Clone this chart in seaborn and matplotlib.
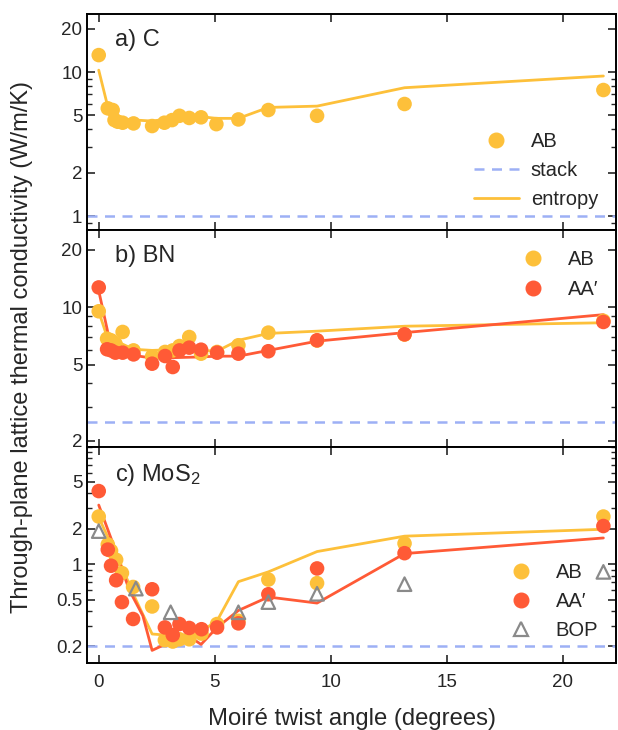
import numpy as np
import pandas as pd
import seaborn as sns
import matplotlib.pyplot as plt
from matplotlib.ticker import FixedLocator, FixedFormatter, NullFormatter
from matplotlib.lines import Line2D

# panel a) C
c_ang = [0, 0.39, 0.6, 0.68, 0.82, 1.03, 1.5, 2.3, 2.83, 3.16, 3.48, 3.9, 4.41, 5.07, 6.02, 7.31, 9.41, 13.18, 21.75]
c_ab = [13.1, 5.6, 5.45, 4.64, 4.52, 4.45, 4.4, 4.22, 4.45, 4.64, 4.97, 4.8, 4.85, 4.35, 4.69, 5.45, 4.97, 6.0, 7.5]
c_ent_ang = [0, 0.39, 1.03, 2.3, 3.48, 4.41, 5.07, 6.02, 7.31, 9.41, 13.18, 21.75]
c_ent = [10.3, 5.74, 4.7, 4.57, 4.85, 4.9, 4.77, 4.77, 5.68, 5.8, 7.78, 9.38]
c_stack = 1.0

# panel b) BN
bn_ang = [0, 0.36, 0.53, 0.72, 1.03, 1.5, 2.3, 2.86, 3.19, 3.48, 3.9, 4.41, 5.1, 6.02, 7.31, 9.41, 13.18, 21.75]
bn_ab = [9.53, 6.85, 6.72, 6.45, 7.43, 5.95, 5.54, 5.84, 5.95, 6.27, 6.99, 5.72, 5.84, 6.33, 7.37, 6.7, 7.2, 8.5]
bn_aa = [12.7, 6.03, 5.95, 5.79, 5.79, 5.67, 5.07, 5.56, 4.87, 5.95, 6.15, 6.0, 5.79, 5.72, 5.89, 6.72, 7.22, 8.38]
bn_ab_ent_ang = [0, 0.36, 1.5, 2.3, 3.19, 4.41, 5.1, 6.02, 7.31, 9.41, 13.18, 21.75]
bn_ab_ent = [9.5, 7.0, 6.03, 5.95, 6.0, 5.95, 5.9, 6.72, 7.3, 7.5, 7.96, 8.3]
bn_aa_ent_ang = [0, 0.53, 1.03, 1.5, 2.3, 3.19, 4.41, 5.1, 6.02, 7.31, 9.41, 13.18, 21.75]
bn_aa_ent = [12.2, 6.2, 5.8, 5.6, 5.43, 5.45, 5.5, 5.55, 5.55, 5.95, 6.65, 7.37, 9.15]
bn_stack = 2.5

# panel c) MoS2
mos_ang = [0, 0.39, 0.53, 0.75, 1.0, 1.48, 2.3, 2.85, 3.19, 3.48, 3.9, 4.43, 5.1, 6.02, 7.31, 9.41, 13.18, 21.75]
mos_ab = [2.54, 1.47, 1.3, 1.09, 0.84, 0.64, 0.437, 0.226, 0.22, 0.23, 0.23, 0.257, 0.31, 0.33, 0.74, 0.69, 1.5, 2.54]
mos_aa = [4.18, 1.33, 0.97, 0.73, 0.476, 0.342, 0.612, 0.29, 0.25, 0.31, 0.287, 0.28, 0.29, 0.314, 0.555, 0.92, 1.24, 2.11]
bop_ang = [0, 1.6, 3.1, 6.02, 7.31, 9.41, 13.18, 21.75]
bop = [1.91, 0.62, 0.39, 0.39, 0.476, 0.56, 0.676, 0.86]
mos_ab_ent_ang = [0, 0.7, 1.0, 1.5, 2.3, 2.85, 3.48, 3.9, 4.43, 5.1, 6.02, 7.31, 9.41, 13.18, 21.75]
mos_ab_ent = [2.5, 1.25, 0.95, 0.55, 0.255, 0.25, 0.24, 0.24, 0.27, 0.33, 0.71, 0.86, 1.28, 1.73, 1.98]
mos_aa_ent_ang = [0, 0.6, 1.32, 1.9, 2.3, 2.85, 3.19, 3.76, 4.41, 5.1, 6.02, 7.31, 9.41, 13.18, 21.75]
mos_aa_ent = [3.18, 1.52, 0.6, 0.365, 0.185, 0.208, 0.208, 0.254, 0.208, 0.29, 0.404, 0.526, 0.467, 1.23, 1.67]
mos_stack = 0.2

YEL = "#fdc03a"
RED = "#ff5a36"
BLUE = "#9db0f5"
GRAY = "#8a8a8a"

sns.set_style("ticks")
plt.rcParams["font.family"] = ["Liberation Sans", "DejaVu Sans"]
plt.rcParams["mathtext.fontset"] = "custom"
plt.rcParams["mathtext.rm"] = "Liberation Sans"
plt.rcParams["mathtext.it"] = "Liberation Sans:italic"

fig, axes = plt.subplots(3, 1, figsize=(6.18, 7.3), dpi=100, sharex=True)
fig.subplots_adjust(left=0.141, right=0.997, top=0.981, bottom=0.092, hspace=0)

ms = 110  # scatter size
lw = 2.0
leg_kw = dict(frameon=False, fontsize=14.5, handlelength=2.2, handletextpad=0.6,
              labelspacing=0.5)


def dots(ax, x, y, color, label, z=3):
    sns.scatterplot(x=x, y=y, ax=ax, color=color, s=ms, marker="o",
                    edgecolor="none", linewidth=0, label=label, zorder=z, legend=False)


def tri(ax, x, y, label):
    sns.scatterplot(x=x, y=y, ax=ax, s=95, marker="^", facecolor="none",
                    edgecolor=GRAY, linewidth=1.6, label=label, zorder=5, legend=False)


def line(ax, x, y, color):
    sns.lineplot(x=x, y=y, ax=ax, color=color, lw=lw, zorder=2,
                 legend=False, sort=False)


# a) C
ax = axes[0]
ax.axhline(c_stack, color=BLUE, ls=(0, (4, 3)), lw=1.8, zorder=1)
line(ax, c_ent_ang, c_ent, YEL)
dots(ax, c_ang, c_ab, YEL, "AB")
h = [Line2D([], [], marker="o", color=YEL, ls="none", markersize=10.5),
     Line2D([], [], color=BLUE, ls=(0, (4, 3)), lw=1.8),
     Line2D([], [], color=YEL, lw=lw)]
ax.legend(h, ["AB", "stack", "entropy"], loc="lower right",
          bbox_to_anchor=(1.0, 0.015), **leg_kw)
ax.text(0.053, 0.93, "a) C", transform=ax.transAxes, fontsize=17, va="top")

# b) BN
ax = axes[1]
ax.axhline(bn_stack, color=BLUE, ls=(0, (4, 3)), lw=1.8, zorder=1)
line(ax, bn_ab_ent_ang, bn_ab_ent, YEL)
line(ax, bn_aa_ent_ang, bn_aa_ent, RED)
dots(ax, bn_ang, bn_ab, YEL, "AB", z=3)
dots(ax, bn_ang, bn_aa, RED, "AA′", z=4)
h = [Line2D([], [], marker="o", color=YEL, ls="none", markersize=10.5),
     Line2D([], [], marker="o", color=RED, ls="none", markersize=10.5)]
ax.legend(h, ["AB", "AA′"], loc="upper right", bbox_to_anchor=(1.0, 0.99), **leg_kw)
ax.text(0.053, 0.93, "b) BN", transform=ax.transAxes, fontsize=17, va="top")

# c) MoS2
ax = axes[2]
ax.axhline(mos_stack, color=BLUE, ls=(0, (4, 3)), lw=1.8, zorder=1)
line(ax, mos_ab_ent_ang, mos_ab_ent, YEL)
line(ax, mos_aa_ent_ang, mos_aa_ent, RED)
dots(ax, mos_ang, mos_ab, YEL, "AB", z=3)
dots(ax, mos_ang, mos_aa, RED, "AA′", z=4)
tri(ax, bop_ang, bop, "BOP")
h = [Line2D([], [], marker="o", color=YEL, ls="none", markersize=10.5),
     Line2D([], [], marker="o", color=RED, ls="none", markersize=10.5),
     Line2D([], [], marker="^", markerfacecolor="none", markeredgecolor=GRAY,
            markeredgewidth=1.6, ls="none", markersize=10)]
ax.legend(h, ["AB", "AA′", "BOP"], loc="lower right", bbox_to_anchor=(1.0, 0.02), **leg_kw)
ax.text(0.053, 0.93, "c) MoS$_2$", transform=ax.transAxes, fontsize=17, va="top")

ylims = [(0.8, 25.3), (1.87, 25.3), (0.145, 10.0)]
majors = [[1, 2, 5, 10, 20], [2, 5, 10, 20], [0.2, 0.5, 1, 2, 5]]
for ax, yl, mj in zip(axes, ylims, majors):
    ax.set_yscale("log")
    ax.set_ylim(*yl)
    ax.yaxis.set_major_locator(FixedLocator(mj))
    ax.yaxis.set_major_formatter(FixedFormatter([f"{v:g}" for v in mj]))
    mn = [m * d for d in [0.1, 1, 10] for m in range(1, 10)]
    mn = [v for v in mn if yl[0] <= v <= yl[1] and not any(abs(v - m) < 1e-9 for m in mj)]
    ax.yaxis.set_minor_locator(FixedLocator(mn))
    ax.yaxis.set_minor_formatter(NullFormatter())
    ax.tick_params(which="major", direction="in", length=6, width=1.2,
                   top=True, right=True, labelsize=13.5)
    ax.tick_params(which="minor", direction="in", length=3.5, width=1.0,
                   top=False, right=True)
    for sp in ax.spines.values():
        sp.set_linewidth(1.4)
        sp.set_color("black")
    ax.set_ylabel("")
    ax.xaxis.set_minor_locator(FixedLocator([]))

axes[2].set_xlim(-0.5, 22.3)
axes[2].set_xticks([0, 5, 10, 15, 20])
axes[2].tick_params(axis="x", pad=8)
axes[2].set_xlabel("Moiré twist angle (degrees)", fontsize=17.2, labelpad=12)
fig.text(0.036, 0.524, "Through-plane lattice thermal conductivity (W/m/K)",
         rotation=90, va="center", ha="center", fontsize=17)

fig.savefig("out.png", dpi=100)
